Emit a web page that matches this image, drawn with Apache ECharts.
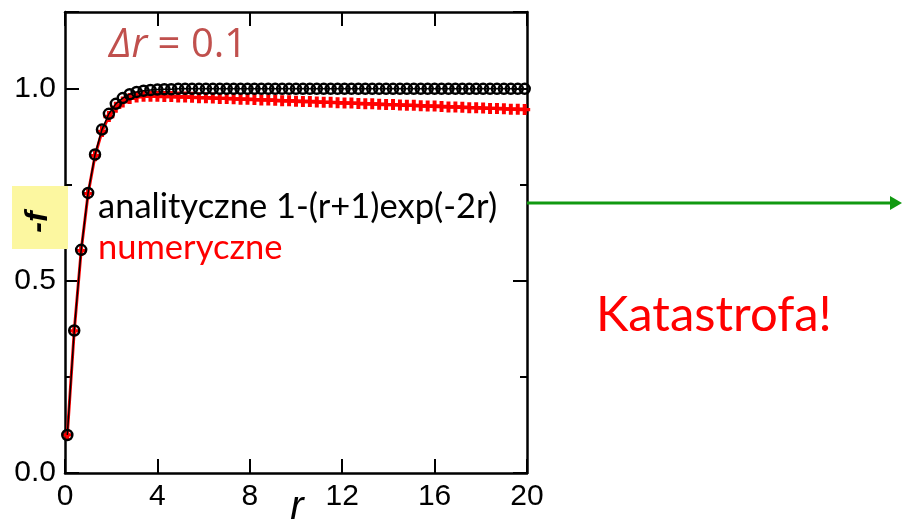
<!DOCTYPE html>
<html>
<head>
<meta charset="utf-8">
<script src="https://cdn.jsdelivr.net/npm/echarts@6/dist/echarts.min.js"></script>
<style>
  html, body { margin: 0; padding: 0; background: #fff; }
  #chart { width: 902px; height: 523px; }
</style>
</head>
<body>
<div id="chart"></div>
<script>
// Sample points r (step 0.3)
const rValues = [
  0.1, 0.4, 0.7, 1.0, 1.3, 1.6, 1.9, 2.2, 2.5, 2.8,
  3.1, 3.4, 3.7, 4.0, 4.3, 4.6, 4.9, 5.2, 5.5, 5.8,
  6.1, 6.4, 6.7, 7.0, 7.3, 7.6, 7.9, 8.2, 8.5, 8.8,
  9.1, 9.4, 9.7, 10.0, 10.3, 10.6, 10.9, 11.2, 11.5, 11.8,
  12.1, 12.4, 12.7, 13.0, 13.3, 13.6, 13.9, 14.2, 14.5, 14.8,
  15.1, 15.4, 15.7, 16.0, 16.3, 16.6, 16.9, 17.2, 17.5, 17.8,
  18.1, 18.4, 18.7, 19.0, 19.3, 19.6, 19.9
];

// Analytic solution -f = 1-(r+1)exp(-2r)
const analytic = [
  0.099, 0.371, 0.581, 0.729, 0.829, 0.894, 0.935, 0.961, 0.976, 0.986,
  0.992, 0.995, 0.997, 0.998, 0.999, 0.999, 1.000, 1.000, 1.000, 1.000,
  1.000, 1.000, 1.000, 1.000, 1.000, 1.000, 1.000, 1.000, 1.000, 1.000,
  1.000, 1.000, 1.000, 1.000, 1.000, 1.000, 1.000, 1.000, 1.000, 1.000,
  1.000, 1.000, 1.000, 1.000, 1.000, 1.000, 1.000, 1.000, 1.000, 1.000,
  1.000, 1.000, 1.000, 1.000, 1.000, 1.000, 1.000, 1.000, 1.000, 1.000,
  1.000, 1.000, 1.000, 1.000, 1.000, 1.000, 1.000
];

// Numerical solution (dr = 0.1)
const numeric = [
  0.099, 0.370, 0.579, 0.727, 0.826, 0.889, 0.928, 0.952, 0.966, 0.975,
  0.979, 0.981, 0.981, 0.981, 0.980, 0.980, 0.979, 0.979, 0.978, 0.977,
  0.977, 0.976, 0.975, 0.975, 0.974, 0.973, 0.973, 0.972, 0.971, 0.971,
  0.970, 0.969, 0.969, 0.968, 0.967, 0.967, 0.966, 0.965, 0.965, 0.964,
  0.963, 0.963, 0.962, 0.961, 0.961, 0.960, 0.959, 0.959, 0.958, 0.957,
  0.957, 0.956, 0.955, 0.955, 0.954, 0.953, 0.953, 0.952, 0.951, 0.951,
  0.950, 0.949, 0.949, 0.948, 0.947, 0.947, 0.946
];

const xTicks = [0, 4, 8, 12, 16, 20];
const yTickLabels = { 0: '0.0', 0.5: '0.5', 1: '1.0' };

const analyticPts = rValues.map((r, i) => [r, analytic[i]]);
const numericPts = rValues.map((r, i) => [r, numeric[i]]);

const plusPath = 'path://M-1.8,-5L1.8,-5L1.8,-1.5L5,-1.5L5,1.5L1.8,1.5L1.8,5L-1.8,5L-1.8,1.5L-5,1.5L-5,-1.5L-1.8,-1.5Z';

const tickFont = { color: '#000', fontSize: 30, fontFamily: 'Liberation Sans' };
const axisLine = { show: true, onZero: false, lineStyle: { color: '#000', width: 2.5 } };
const tickStyle = { show: true, inside: true, length: 14, lineStyle: { color: '#000', width: 2 } };
const minorStyle = { show: true, splitNumber: 2, length: 7, lineStyle: { color: '#000', width: 2 } };

const chart = echarts.init(document.getElementById('chart'), null, { renderer: 'canvas' });

chart.setOption({
  animation: false,
  backgroundColor: '#fff',
  grid: { left: 65, right: 375, top: 12, bottom: 50, containLabel: false, outerBoundsMode: 'none' },
  xAxis: [
    {
      type: 'value', min: 0, max: 20, interval: 4, position: 'bottom',
      axisLine: axisLine, axisTick: tickStyle,
      axisLabel: Object.assign({ margin: 9, formatter: v => xTicks.includes(v) ? String(v) : '' }, tickFont),
      splitLine: { show: false }
    },
    {
      type: 'value', min: 0, max: 20, interval: 4, position: 'top',
      axisLine: axisLine, axisTick: tickStyle,
      axisLabel: { show: false },
      splitLine: { show: false }
    }
  ],
  yAxis: [
    {
      type: 'value', min: 0, max: 1.2, interval: 0.5, position: 'left',
      axisLine: axisLine, axisTick: tickStyle, minorTick: minorStyle,
      axisLabel: Object.assign({ margin: 9, formatter: v => yTickLabels[v] || '' }, tickFont),
      splitLine: { show: false }, minorSplitLine: { show: false }
    },
    {
      type: 'value', min: 0, max: 1.2, interval: 0.5, position: 'right',
      axisLine: axisLine, axisTick: tickStyle, minorTick: minorStyle,
      axisLabel: { show: false },
      splitLine: { show: false }, minorSplitLine: { show: false }
    }
  ],
  series: [
    {
      name: 'numeryczne', type: 'line', data: numericPts,
      symbol: plusPath, symbolSize: 11, showAllSymbol: true,
      lineStyle: { color: '#ff0000', width: 3 },
      itemStyle: { color: '#ff0000' },
      z: 2
    },
    {
      name: 'analityczne', type: 'line', data: analyticPts,
      symbol: 'circle', symbolSize: 10, showAllSymbol: true,
      lineStyle: { color: '#000', width: 1.5 },
      itemStyle: { color: 'rgba(0,0,0,0)', borderColor: '#000', borderWidth: 2.5 },
      z: 3
    }
  ],
  graphic: [
    {
      type: 'text', x: 109, y: 46, z: 10,
      style: {
        text: '{i|Δr} = 0.1',
        fill: '#c0504d', font: '40px "Open Sans"', textVerticalAlign: 'middle',
        rich: { i: { fontStyle: 'italic', fontSize: 40, fontFamily: 'Open Sans', fill: '#c0504d' } }
      }
    },
    {
      type: 'text', x: 98, y: 207, z: 10,
      style: { text: 'analityczne 1-(r+1)exp(-2r)', fill: '#000', font: '34.5px Lato', textVerticalAlign: 'middle' }
    },
    {
      type: 'text', x: 98, y: 248, z: 10,
      style: { text: 'numeryczne', fill: '#ff0000', font: '34.5px Lato', textVerticalAlign: 'middle' }
    },
    {
      type: 'text', x: 297, y: 508, z: 10,
      style: {
        text: 'r', fill: '#000', font: 'italic 40px "Liberation Sans"',
        textAlign: 'center', textVerticalAlign: 'middle'
      }
    },
    {
      type: 'rect', z: 10,
      shape: { x: 12, y: 186, width: 56, height: 63 },
      style: { fill: '#fcf7a0' }
    },
    {
      type: 'text', z: 11, x: 38, y: 222, rotation: Math.PI / 2,
      style: {
        text: '-f', fill: '#000', font: 'italic bold 32px "Liberation Sans"',
        textAlign: 'center', textVerticalAlign: 'middle'
      }
    },
    {
      type: 'line', z: 10,
      shape: { x1: 527, y1: 203, x2: 894, y2: 203 },
      style: { stroke: '#119911', lineWidth: 3 }
    },
    {
      type: 'polygon', z: 10,
      shape: { points: [[890, 196], [902, 203], [890, 210]] },
      style: { fill: '#119911' }
    },
    {
      type: 'text', x: 596, y: 315, z: 10,
      style: { text: 'Katastrofa!', fill: '#ff0000', font: '49px Lato', textVerticalAlign: 'middle' }
    }
  ]
});
</script>
</body>
</html>
